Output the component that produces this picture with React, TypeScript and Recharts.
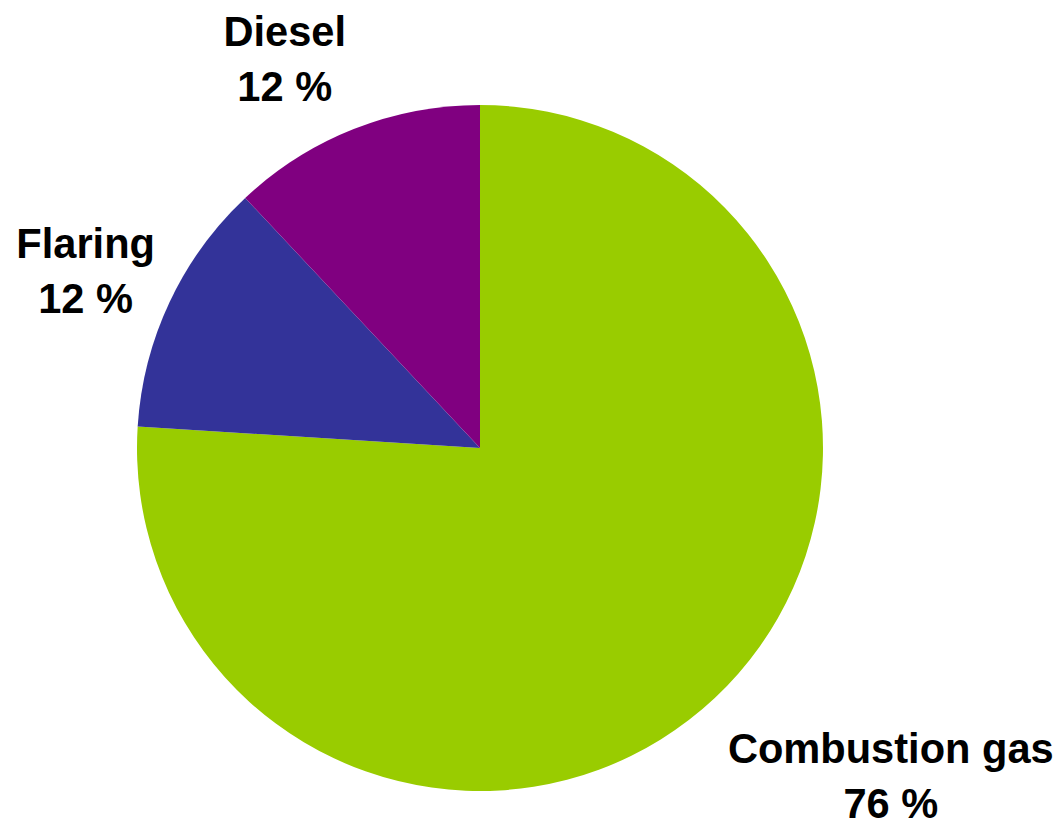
import React from 'react';
import { PieChart, Pie, Cell } from 'recharts';

const categories = ['Combustion gas', 'Flaring', 'Diesel'];
const shares = [76, 12, 12];
const colors = ['#99CC00', '#333399', '#800080'];

const data = categories.map((name, i) => ({ name, value: shares[i] }));

const RADIAN = Math.PI / 180;

// where the first line's baseline sits relative to the slice's outer edge point
const labelOffsets: Record<string, { dx: number; dy: number }> = {
  'Combustion gas': { dx: 176, dy: 65 },
  Flaring: { dx: -84, dy: -44 },
  Diesel: { dx: -69, dy: -83 },
};

const renderLabel = (props: any) => {
  const { cx, cy, midAngle, outerRadius, name, value } = props;
  const ex = cx + outerRadius * Math.cos(-midAngle * RADIAN);
  const ey = cy + outerRadius * Math.sin(-midAngle * RADIAN);
  const off = labelOffsets[name] || { dx: 0, dy: 0 };
  const x = ex + off.dx;
  const y = ey + off.dy;
  return (
    <text
      x={x}
      y={y}
      textAnchor="middle"
      fill="#000"
      fontFamily="'Liberation Sans', Arial, sans-serif"
      fontWeight="bold"
      fontSize={41.6}
    >
      <tspan x={x} y={y}>{name}</tspan>
      <tspan x={x} y={y + 55}>{value} %</tspan>
    </text>
  );
};

export default function App() {
  return (
    <PieChart width={1056} height={812} margin={{ top: 0, right: 0, bottom: 0, left: 0 }}>
      <Pie
        data={data}
        dataKey="value"
        nameKey="name"
        cx={472}
        cy={440}
        outerRadius={343}
        startAngle={90}
        endAngle={-270}
        stroke="none"
        label={renderLabel}
        labelLine={false}
        isAnimationActive={false}
      >
        {data.map((d, i) => (
          <Cell key={d.name} fill={colors[i]} />
        ))}
      </Pie>
    </PieChart>
  );
}
